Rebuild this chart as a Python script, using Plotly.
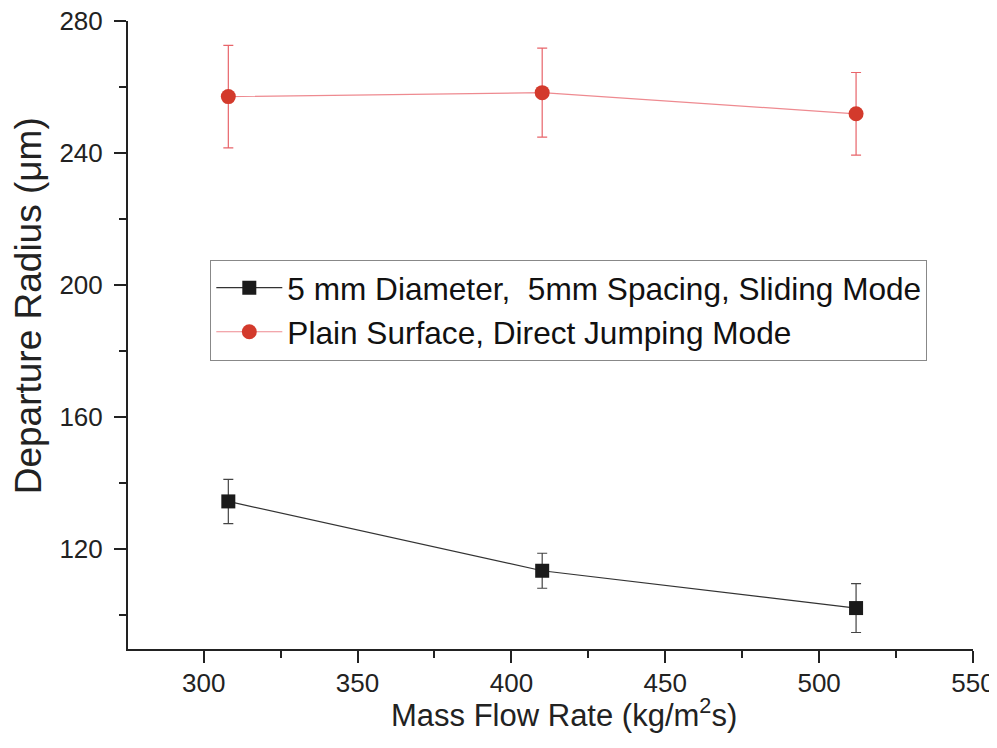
import plotly.graph_objects as go

mass_flow = [308, 410, 512]
pin_radius = [134.5, 113.5, 102.2]
pin_err = [6.7, 5.3, 7.4]
plain_radius = [257.1, 258.3, 251.9]
plain_err = [15.5, 13.5, 12.5]

name_pin = "5 mm Diameter,  5mm Spacing, Sliding Mode"
name_plain = "Plain Surface, Direct Jumping Mode"
x_title = "Mass Flow Rate (kg/m<sup>2</sup>s)"
y_title = "Departure Radius (\u03bcm)"

FONT = "Liberation Sans, Arial, sans-serif"

fig = go.Figure()
fig.add_trace(go.Scatter(
    x=mass_flow, y=pin_radius, name=name_pin, mode="lines+markers",
    line=dict(color="#333333", width=1.2),
    marker=dict(symbol="square", size=14, color="#1a1a1a"),
    error_y=dict(type="data", array=pin_err, visible=True, color="#444444", thickness=1.2, width=5),
))
fig.add_trace(go.Scatter(
    x=mass_flow, y=plain_radius, name=name_plain, mode="lines+markers",
    line=dict(color="#ee8a90", width=1.2),
    marker=dict(symbol="circle", size=15, color="#d33a2c"),
    error_y=dict(type="data", array=plain_err, visible=True, color="#e8646a", thickness=1.2, width=5),
))

# plot area: x 127.7..972.7, y 21..649 in the screenshot (page body has an 8px margin)
fig.update_layout(
    width=989, height=740,
    margin=dict(l=120, r=24, t=13, b=99, autoexpand=False),
    paper_bgcolor="white", plot_bgcolor="white",
    font=dict(family=FONT, color="#222222"),
    showlegend=True,
    legend=dict(
        x=0.0974, y=0.62, xanchor="left", yanchor="top",
        bordercolor="#888888", borderwidth=1, bgcolor="white",
        font=dict(size=31.6, family=FONT, color="#111111"),
        itemwidth=66, tracegroupgap=0,
    ),
    annotations=[
        dict(text=x_title, xref="paper", yref="paper",
             x=(564 - 127.7) / 845, y=(649 - 713) / 628,
             xanchor="center", yanchor="middle", showarrow=False,
             font=dict(size=31, family=FONT, color="#222222")),
        dict(text=y_title, xref="paper", yref="paper",
             x=(28 - 127.7) / 845, y=(649 - 306) / 628,
             xanchor="center", yanchor="middle", showarrow=False, textangle=-90,
             font=dict(size=37, family=FONT, color="#222222")),
    ],
)

fig.update_xaxes(
    range=[275.4, 550], tickvals=[300, 350, 400, 450, 500, 550],
    automargin=False, ticklabeloverflow="allow",
    showgrid=False, zeroline=False, showline=True, linecolor="#222222", linewidth=2,
    ticks="outside", ticklen=12, tickwidth=2, tickcolor="#222222", ticklabelstandoff=-2,
    minor=dict(ticks="outside", ticklen=7, tickwidth=2, tickcolor="#222222", dtick=25, tick0=0, showgrid=False),
    tickfont=dict(size=26, family=FONT, color="#222222"),
)
fig.update_yaxes(
    range=[89.8, 280], tickvals=[120, 160, 200, 240, 280],
    automargin=False, ticklabeloverflow="allow",
    showgrid=False, zeroline=False, showline=True, linecolor="#222222", linewidth=2,
    ticks="outside", ticklen=12, tickwidth=2, tickcolor="#222222", ticklabelstandoff=6,
    minor=dict(ticks="outside", ticklen=7, tickwidth=2, tickcolor="#222222", dtick=20, tick0=0, showgrid=False),
    tickfont=dict(size=26, family=FONT, color="#222222"),
)

fig.write_html("out.html")
